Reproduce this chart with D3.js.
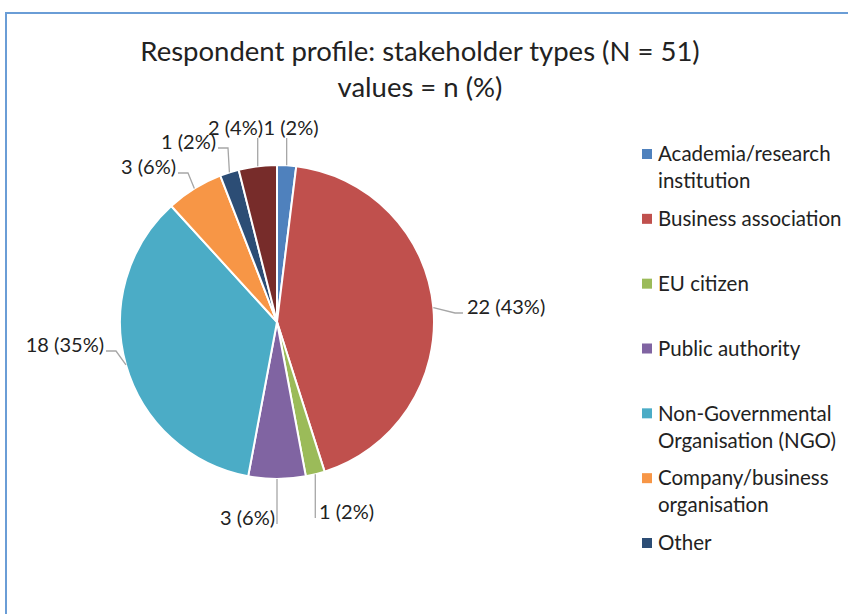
<!DOCTYPE html>
<html>
<head>
<meta charset="utf-8">
<script src="https://cdn.jsdelivr.net/npm/d3@7"></script>
<style>
  html, body { margin: 0; padding: 0; background: #fff; }
  svg { display: block; font-family: Lato, "Open Sans", sans-serif; }
</style>
</head>
<body>
<svg width="848" height="614"></svg>
<script>
// categories in drawing order (clockwise from 12 o'clock)
const categories = [
  "Academia/research institution",
  "Business association",
  "EU citizen",
  "Public authority",
  "Non-Governmental Organisation (NGO)",
  "Company/business organisation",
  "Other",
  "Not specified"
];
const counts = [1, 22, 1, 3, 18, 3, 1, 2];
const colors = ["#4F81BD", "#C0504D", "#9BBB59", "#8064A2", "#4BACC6", "#F79646", "#2C4D75", "#772C2A"];
// legend in the original only shows the first 7 entries
const legendCount = 7;

// label placement, relative to the pie centre: [dx, dy, anchor, leader type]
const labelLayout = [
  [14, -194, "middle", "v"],
  [190, -15, "start", "h"],
  [42, 190, "start", "v"],
  [-2, 196, "end", "v"],
  [-173, 23, "end", "h"],
  [-101, -155, "end", "h"],
  [-61, -180, "end", "h"],
  [-14, -194, "end", "v"]
];

var svg = d3.select("svg");

// frame
svg.append("rect")
  .attr("x", 6).attr("y", 13)
  .attr("width", 1000).attr("height", 1000)
  .attr("fill", "none")
  .attr("stroke", "#6A9DD6")
  .attr("stroke-width", 2);

// title
var title = svg.append("text")
  .attr("text-anchor", "middle")
  .attr("fill", "#222")
  .style("font-size", "27.5px");
title.append("tspan").attr("x", 420).attr("y", 61).text("Respondent  profile: stakeholder types (N = 51)");
title.append("tspan").attr("x", 420).attr("y", 97).text("values = n (%)");

var total = d3.sum(counts);
var cx = 277, cy = 322, radius = 157;

var data = categories.map((c, i) => ({name: c, value: counts[i], color: colors[i], layout: labelLayout[i]}));

var pie = d3.pie().sort(null).value(d => d.value);
var arc = d3.arc().innerRadius(0).outerRadius(radius);

var g = svg.append("g").attr("transform", `translate(${cx},${cy})`);

var arcs = pie(data);

g.selectAll(".slice")
  .data(arcs)
  .enter().append("path")
  .attr("class", "slice")
  .attr("d", arc)
  .attr("fill", d => d.data.color)
  .attr("stroke", "#fff")
  .attr("stroke-width", 2)
  .attr("stroke-linejoin", "round");

// leader lines + labels
function edgePoint(d) {
  var a = (d.startAngle + d.endAngle) / 2;
  return [radius * Math.sin(a), -radius * Math.cos(a)];
}

arcs.forEach(function(d) {
  var o = edgePoint(d);
  var L = d.data.layout;
  var lx = L[0], ly = L[1], anchor = L[2];
  var pts;
  if (L[3] === "v") {
    var endY = ly < 0 ? ly + 10 : ly + 6;
    pts = [o, [o[0], endY]];
  } else {
    var ax = anchor === "end" ? lx + 2 : lx - 4;
    var ay = ly + 6;
    var ex = anchor === "end" ? ax + 10 : ax - 8;
    pts = [o, [ex, ay], [ax, ay]];
  }
  g.append("path")
    .attr("d", d3.line()(pts))
    .attr("fill", "none")
    .attr("stroke", "#A6A6A6")
    .attr("stroke-width", 1.3);

  var pct = Math.round(d.data.value / total * 100);
  g.append("text")
    .attr("x", lx)
    .attr("y", ly)
    .attr("dy", "0.35em")
    .attr("text-anchor", anchor)
    .attr("fill", "#222")
    .style("font-size", "20px")
    .text(`${d.data.value} (${pct}%)`);
});

// legend
var legend = svg.append("g").attr("transform", "translate(642,0)");
var legendY = d3.scalePoint()
  .domain(d3.range(legendCount))
  .range([154, 543]);

data.slice(0, legendCount).forEach(function(d, i) {
  var y = legendY(i);
  legend.append("rect")
    .attr("x", 0).attr("y", y - 5)
    .attr("width", 10).attr("height", 10)
    .attr("fill", d.color);
  var t = legend.append("text")
    .attr("fill", "#222")
    .style("font-size", "20.5px");
  // word wrap at ~190px
  var words = d.name.split(" ");
  var line = [], lineNo = 0;
  var tspan = t.append("tspan").attr("x", 16).attr("y", y).attr("dy", "0.35em");
  words.forEach(function(w) {
    line.push(w);
    tspan.text(line.join(" "));
    if (tspan.node().getComputedTextLength() > 190 && line.length > 1) {
      line.pop();
      tspan.text(line.join(" "));
      line = [w];
      lineNo++;
      tspan = t.append("tspan").attr("x", 16).attr("y", y + lineNo * 27).attr("dy", "0.35em").text(w);
    }
  });
});
</script>
</body>
</html>
